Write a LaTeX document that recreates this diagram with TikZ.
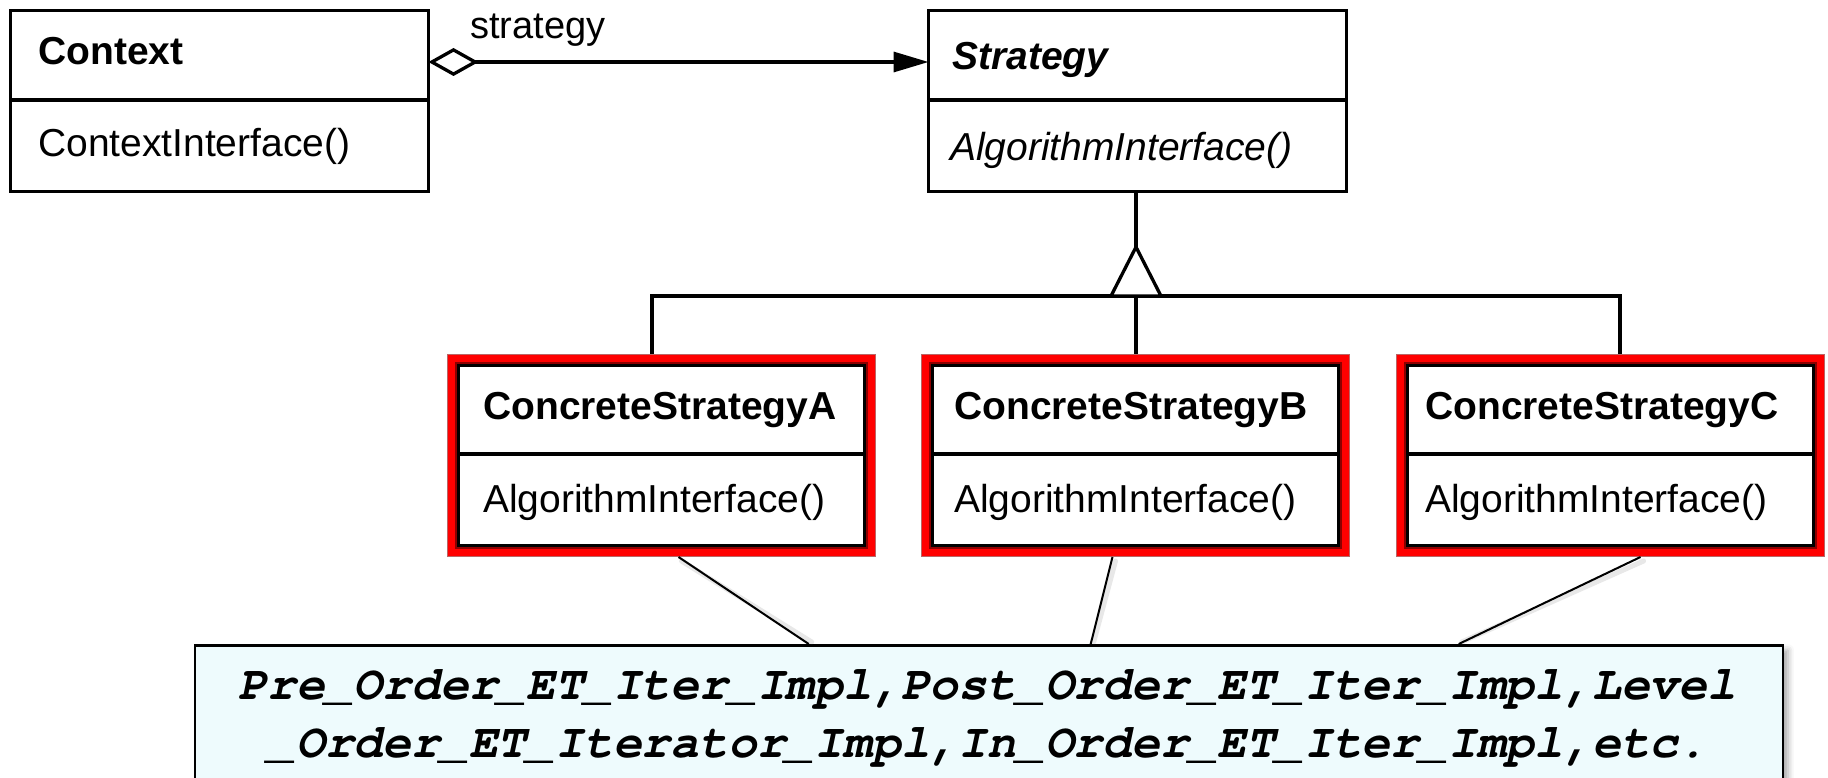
\documentclass[tikz,border=0pt]{standalone}
\usepackage{fontspec}
\setmainfont{Liberation Sans}
\newfontfamily\notefont{texgyrecursor}[Extension=.otf, UprightFont=*-regular,
  BoldFont=*-bold, ItalicFont=*-italic, BoldItalicFont=*-bolditalic]
\usetikzlibrary{arrows.meta,calc,shadows.blur}

\definecolor{noteFill}{RGB}{238,251,253}
\definecolor{frameRed}{RGB}{255,0,0}
\definecolor{frameDark}{RGB}{140,0,0}

\begin{document}
\begin{tikzpicture}[x=1pt,y=-1pt,
  umlline/.style={line width=3.3pt, black},
  classbox/.style={draw, line width=3.3pt, fill=white, anchor=north west,
    inner sep=0pt, outer sep=0pt, minimum width=418pt, minimum height=181pt},
  concbox/.style={fill=white, anchor=north west, inner sep=0pt, outer sep=0pt,
    minimum width=429pt, minimum height=203pt},
  umlname/.style={anchor=base west, inner sep=0pt, font=\fontsize{39}{47}\selectfont\bfseries},
  umlabstract/.style={anchor=base west, inner sep=0pt, font=\fontsize{39}{47}\selectfont\bfseries\itshape},
  umlop/.style={anchor=base west, inner sep=0pt, font=\fontsize{39}{47}\selectfont},
  umlabstractop/.style={anchor=base west, inner sep=0pt, font=\fontsize{39}{47}\selectfont\itshape},
  rolelabel/.style={anchor=base west, inner sep=0pt, font=\fontsize{38}{46}\selectfont},
  notebox/.style={draw, line width=2.5pt, fill=noteFill, anchor=north west, inner sep=0pt,
    minimum width=1588pt, minimum height=170pt,
    blur shadow={shadow xshift=5pt, shadow yshift=-5pt, shadow blur radius=6pt, shadow opacity=35}},
  notetext/.style={anchor=base, inner sep=0pt, font=\fontsize{48}{56}\notefont\bfseries\itshape},
  noteline/.style={line width=2pt, black},
  notelineshadow/.style={line width=5pt, gray, opacity=0.18, line cap=round}
]
\useasboundingbox (0,0) rectangle (1828,778);
\clip (0,0) rectangle (1828,778);

% ---- Context and Strategy classes
\node[classbox] (ctx) at (10.5,10.5) {};
\draw[umlline] (ctx.west |- 0,100) -- (ctx.east |- 0,100);
\node[umlname] (ctxTitle) at (38,65) {Context};
\node[umlop] (ctxOp) at (38,157) {ContextInterface()};

\node[classbox] (st) at (928.5,10.5) {};
\draw[umlline] (st.west |- 0,100) -- (st.east |- 0,100);
\node[umlabstract] (stTitle) at (952,70) {Strategy};
\node[umlabstractop] (stOp) at (950,161) {AlgorithmInterface()};

% ---- aggregation Context -> Strategy
\draw[umlline, {Diamond[open, length=50pt, width=28pt]}-{Triangle[length=35pt, width=20pt]}]
  (ctx.east |- 0,62) -- (st.west |- 0,62);
\node[rolelabel] (aggLabel) at (470,39) {strategy};

% ---- concrete strategies with red frames
\node[concbox] (csA) at (447,354) {};
\node[concbox] (csB) at (921,354) {};
\node[concbox] (csC) at (1396,354) {};
\foreach \n in {csA,csB,csC}{
  \draw[line width=10pt, frameRed] ($(\n.north west)+(5,5)$) rectangle ($(\n.south east)+(-5,-5)$);
  \draw[line width=0.8pt, frameDark!60] ($(\n.north west)+(0.4,0.4)$) rectangle ($(\n.south east)+(-0.4,-0.4)$);
  \draw[line width=2.2pt, frameDark] ($(\n.north west)+(8.9,8.9)$) rectangle ($(\n.south east)+(-8.9,-8.9)$);
  \draw[umlline] ($(\n.north west)+(11.5,11.5)$) rectangle ($(\n.south east)+(-11.5,-11.5)$);
  \draw[umlline] ($(\n.north west)+(11.5,100)$) -- ($(\n.north east)+(-11.5,100)$);
}
\node[umlname] (csATitle) at (483,419) {ConcreteStrategyA};
\node[umlop] (csAOp) at (483,512) {AlgorithmInterface()};
\node[umlname] (csBTitle) at (954,419) {ConcreteStrategyB};
\node[umlop] (csBOp) at (954,512) {AlgorithmInterface()};
\node[umlname] (csCTitle) at (1425,419) {ConcreteStrategyC};
\node[umlop] (csCOp) at (1425,512) {AlgorithmInterface()};

% ---- generalization tree
\coordinate (apex) at (1136,247);
\coordinate (tbase) at (1136,296);
\coordinate (busL) at (652,296);
\coordinate (busR) at (1620,296);
\draw[umlline] (apex |- st.south) -- (apex);
\draw[umlline] (csA.north -| busL) -- (busL) -- (busR) -- (csC.north -| busR);
\draw[umlline] (tbase) -- (csB.north -| tbase);
\draw[umlline, fill=white, line join=miter] (apex) -- ($(tbase)+(-25,0)$) -- ($(tbase)+(25,0)$) -- cycle;

% ---- note with implementation classes
\node[notebox] (note) at (193.7,644) {};
\coordinate (nA) at ($(note.north west)+(615,0)$);
\coordinate (nB) at ($(note.north west)+(897,0)$);
\coordinate (nC) at ($(note.north west)+(1265,0)$);
\node[notetext] (noteL1) at (987.5,699) {Pre\_Order\_ET\_Iter\_Impl,Post\_Order\_ET\_Iter\_Impl,Level};
\node[notetext] (noteL2) at (987.5,757) {\_Order\_ET\_Iterator\_Impl,In\_Order\_ET\_Iter\_Impl,etc.};

% ---- note anchors
\draw[notelineshadow] ($(csA.south)+(20,4)$) -- ($(nA)+(3,-2)$);
\draw[notelineshadow] ($(csB.south)+(-20,4)$) -- ($(nB)+(3,-2)$);
\draw[notelineshadow] ($(csC.south)+(33,4)$) -- ($(nC)+(3,-2)$);
\draw[noteline] ($(csA.south)+(17,0)$) -- (nA);
\draw[noteline] ($(csB.south)+(-23,0)$) -- (nB);
\draw[noteline] ($(csC.south)+(30,0)$) -- (nC);
\end{tikzpicture}
\end{document}
